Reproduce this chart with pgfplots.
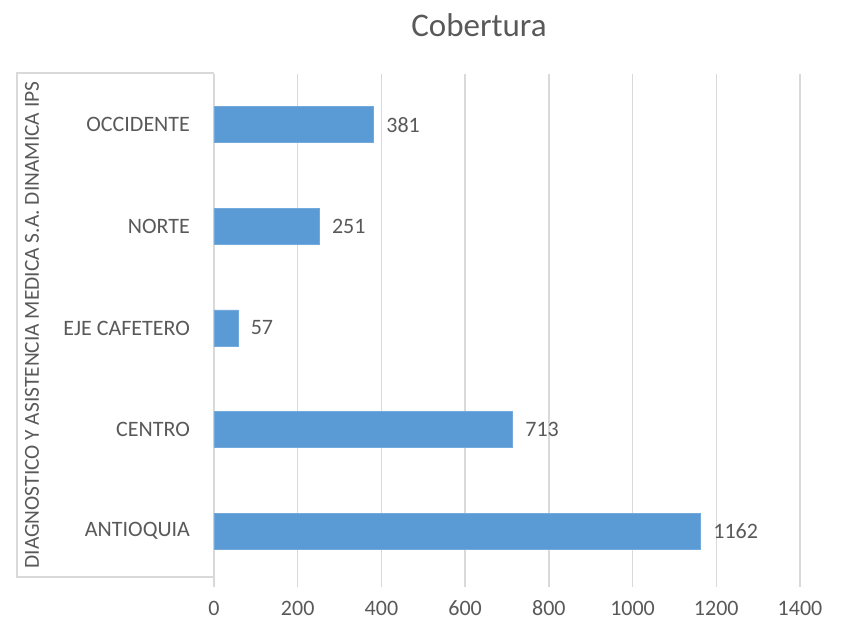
\documentclass[border=0pt]{standalone}
\usepackage{pgfplots}
\pgfplotsset{compat=1.18}
\usepackage{fontspec}
\setmainfont{Carlito}
\definecolor{barblue}{HTML}{5B9BD5}
\definecolor{txtgray}{HTML}{595959}
\definecolor{gridgray}{HTML}{D9D9D9}
\begin{document}
\begin{tikzpicture}
\path[use as bounding box] (0pt,0pt) rectangle (423.5pt,317.5pt);
% box around category label area
\draw[gridgray, line width=0.75pt] (107pt,281pt) -- (8.5pt,281pt) -- (8.5pt,29pt) -- (107pt,29pt);
\node[rotate=90, text=txtgray, font=\fontsize{10.7}{13}\selectfont] at (16pt,155pt) {DIAGNOSTICO Y ASISTENCIA MEDICA S.A. DINAMICA IPS};
\node[text=txtgray, font=\fontsize{16.5}{19}\selectfont] at (239.5pt,305pt) {Cobertura};
\begin{axis}[
  at={(107pt,26.5pt)}, anchor=south west,
  scale only axis,
  width=293pt, height=254pt,
  xbar, bar width=18pt,
  xmin=0, xmax=1400,
  ymin=-0.5, ymax=4.5,
  xtick={0,200,...,1400},
  ytick={0,1,2,3,4},
  yticklabels={ANTIOQUIA, CENTRO, EJE CAFETERO, NORTE, OCCIDENTE},
  /pgf/number format/assume math mode=true,
  /pgf/number format/1000 sep={},
  xmajorgrids,
  grid style={gridgray, line width=0.75pt},
  axis x line*=bottom,
  axis y line*=left,
  x axis line style={draw=none},
  y axis line style={gridgray, line width=0.75pt},
  tick align=outside,
  x tick style={gridgray, line width=0.75pt},
  y tick style={draw=none},
  major tick length=2.5pt,
  ticklabel style={text=txtgray, font=\fontsize{11}{13}\selectfont},
  x tick label style={yshift=-3pt, text height=7.5pt, text depth=0pt},
  y tick label style={xshift=-6pt},
  nodes near coords,
  every node near coord/.append style={text=txtgray, font=\fontsize{11}{13}\selectfont, anchor=west, xshift=3pt},
]
\addplot[fill=barblue, draw=barblue!85!white, line width=0.3pt] coordinates {(1162,0) (713,1) (57,2) (251,3) (381,4)};
\end{axis}
\end{tikzpicture}
\end{document}
